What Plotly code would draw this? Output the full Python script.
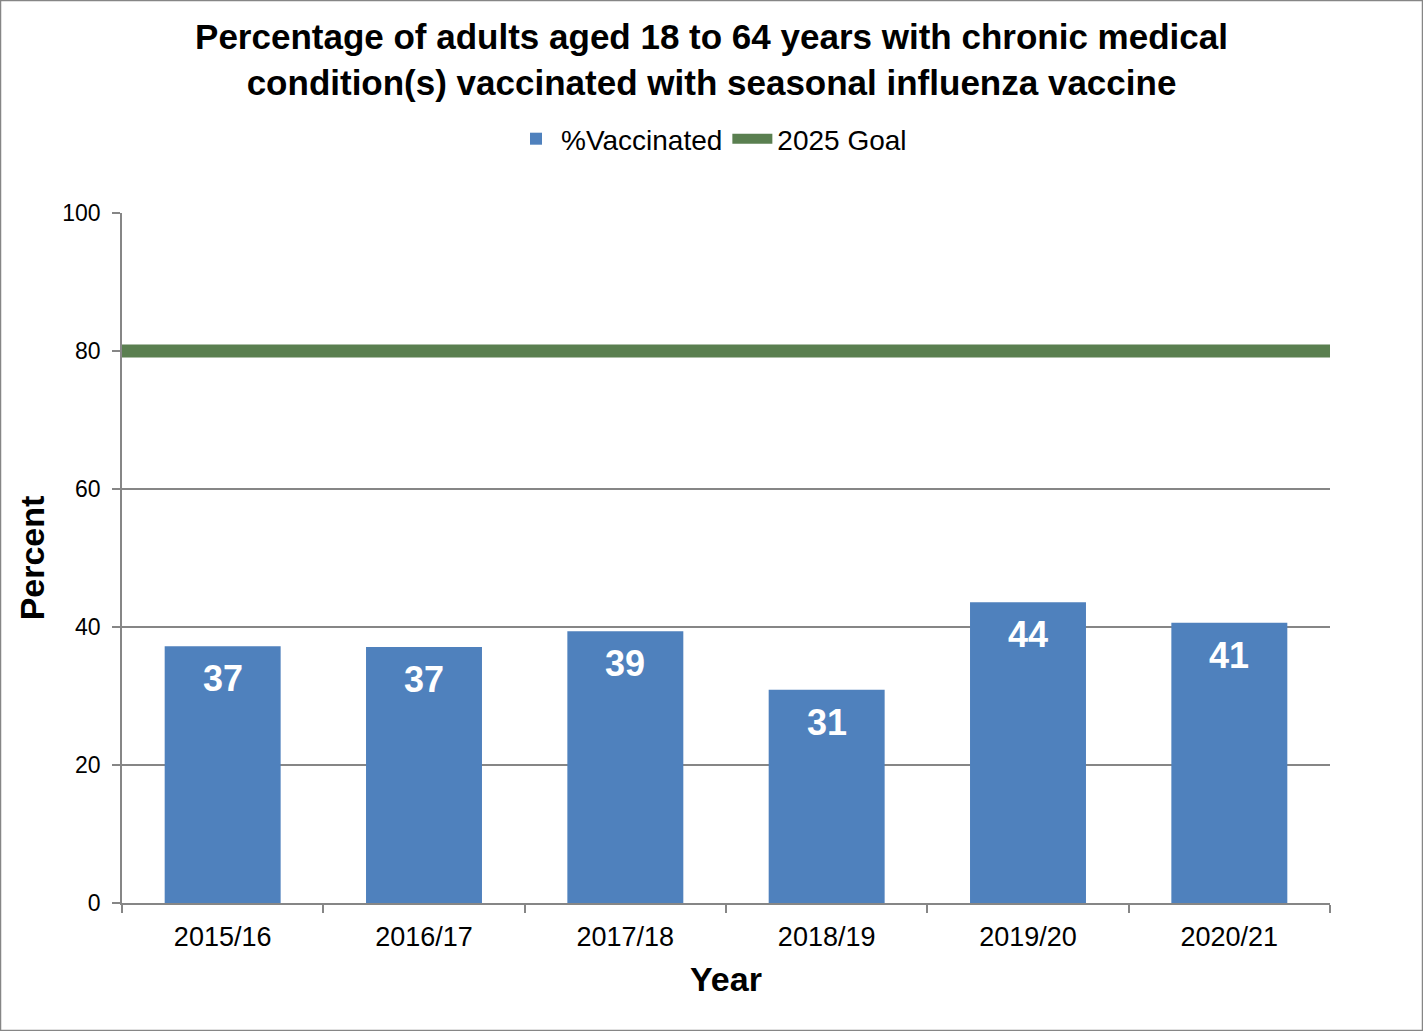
import plotly.graph_objects as go

years = ["2015/16", "2016/17", "2017/18", "2018/19", "2019/20", "2020/21"]
vaccinated = [37.2, 37.1, 39.4, 30.9, 43.6, 40.6]
goal = 80
y_ticks = [0, 20, 40, 60, 80, 100]

W, H = 1423, 1031
L, R, T, B = 122, 93, 213, 128
pw, ph = W - L - R, H - T - B

gray = "#868686"
font = "Liberation Sans, Arial, sans-serif"

fig = go.Figure()
fig.add_trace(go.Bar(
    x=years, y=vaccinated, name="%Vaccinated",
    marker=dict(color="#4F81BD", line=dict(width=0)),
    width=0.576, hoverinfo="x+y",
))
fig.add_trace(go.Scatter(
    x=[0, 1], y=[goal, goal], name="2025 Goal", mode="lines",
    line=dict(color="#5A7F50", width=13), xaxis="x2", hoverinfo="skip",
))

annotations = [
    dict(x=yr, y=v, xref="x", yref="y", text=f"{v:.0f}", showarrow=False,
         yanchor="top", yshift=-10,
         font=dict(family=font, size=36, color="white", weight="bold"))
    for yr, v in zip(years, vaccinated)
]

fig.update_layout(
    width=W, height=H,
    margin=dict(l=L, r=R, t=T, b=B, pad=0),
    paper_bgcolor="white", plot_bgcolor="white",
    font=dict(family=font, color="black"),
    title=dict(
        text="Percentage of adults aged 18 to 64 years with chronic medical<br>condition(s) vaccinated with seasonal influenza vaccine",
        x=0.5, xanchor="center", xref="container", y=1 - 49 / H, yanchor="top", yref="container",
        font=dict(family=font, size=35, color="black", weight="bold"),
    ),
    showlegend=True,
    legend=dict(orientation="h", x=0.5, xanchor="center", xref="container",
                y=1 - 114 / H, yanchor="top", yref="container",
                font=dict(family=font, size=28, color="black"),
                itemwidth=40, tracegroupgap=0, traceorder="normal"),
    bargap=0.424,
    annotations=annotations,
    xaxis=dict(
        type="category", categoryorder="array", categoryarray=years,
        range=[-0.5, len(years) - 0.5],
        showline=True, linecolor=gray, linewidth=1.5,
        ticks="outside", ticklen=8, tickcolor=gray, tickwidth=1.5, tickson="boundaries",
        ticklabelstandoff=9,
        showgrid=False, tickfont=dict(family=font, size=27, color="black"),
        title=dict(text="Year", font=dict(family=font, size=34, color="black", weight="bold"), standoff=16),
        fixedrange=True,
    ),
    xaxis2=dict(overlaying="x", range=[0, 1], visible=False, fixedrange=True),
    yaxis=dict(
        range=[0, 100], tickvals=y_ticks,
        showline=True, linecolor=gray, linewidth=1.5,
        ticks="outside", ticklen=8, tickcolor=gray, tickwidth=1.5,
        ticklabelstandoff=7,
        showgrid=True, gridcolor=gray, gridwidth=1.5, zeroline=False,
        tickfont=dict(family=font, size=23, color="black"),
        title=dict(text="Percent", font=dict(family=font, size=34, color="black", weight="bold"), standoff=7),
        fixedrange=True,
    ),
    shapes=[dict(type="rect", xref="paper", yref="paper",
                 x0=(0.5 - L) / pw, x1=(W - 0.5 - L) / pw,
                 y0=-(B - 0.5) / ph, y1=(H - 0.5 - B) / ph,
                 line=dict(color=gray, width=1.5), fillcolor="rgba(0,0,0,0)", layer="below")],
)

fig.write_html("out.html", config={"displayModeBar": False},
               post_script="document.body.style.margin='0';document.body.style.padding='0';")
